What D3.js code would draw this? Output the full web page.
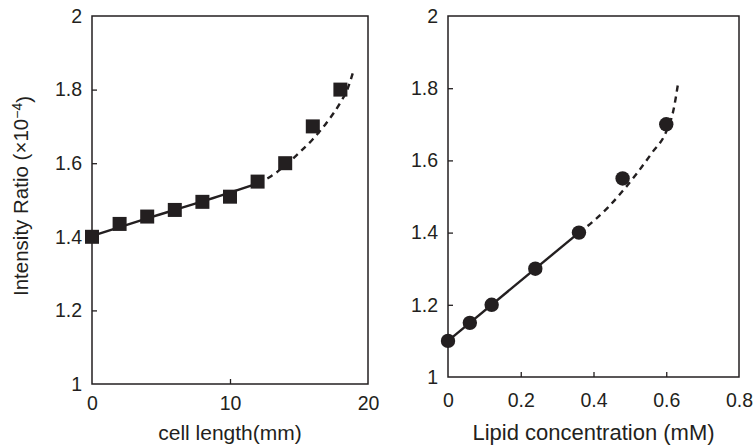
<!DOCTYPE html>
<html>
<head>
<meta charset="utf-8">
<script src="https://cdn.jsdelivr.net/npm/d3@7"></script>
<style>
  html, body { margin: 0; padding: 0; background: #fff; }
  svg { display: block; font-family: "Liberation Sans", Arial, Helvetica, sans-serif; }
</style>
</head>
<body>
<svg id="chart" width="755" height="446"></svg>
<script>
// ---- Data ----
// Left panel: cell length (mm) vs intensity ratio
const cellLength = [0, 2, 4, 6, 8, 10, 12, 14, 16, 18];
const ratioByLength = [1.40, 1.435, 1.455, 1.473, 1.495, 1.509, 1.55, 1.60, 1.70, 1.80];
const lengthFitSolidX = [0, 4, 8, 12];
const lengthFitSolidY = [1.402, 1.450, 1.496, 1.545];
const lengthFitDashX = [12, 13, 14, 15, 16, 17, 18, 18.5, 18.93];
const lengthFitDashY = [1.545, 1.565, 1.594, 1.628, 1.665, 1.71, 1.765, 1.80, 1.849];

// Right panel: lipid concentration (mM) vs intensity ratio
const lipidConc = [0, 0.06, 0.12, 0.24, 0.36, 0.48, 0.60];
const ratioByLipid = [1.10, 1.15, 1.20, 1.30, 1.40, 1.55, 1.70];
const lipidFitSolidX = [0, 0.36];
const lipidFitSolidY = [1.10, 1.40];
const lipidFitDashX = [0.36, 0.40, 0.44, 0.48, 0.52, 0.56, 0.60, 0.62, 0.632];
const lipidFitDashY = [1.40, 1.432, 1.47, 1.515, 1.565, 1.62, 1.68, 1.74, 1.81];

// Tick values / labels
const yTicks = [1, 1.2, 1.4, 1.6, 1.8, 2];
const lengthTicks = [0, 10, 20];
const lipidTicks = [0, 0.2, 0.4, 0.6, 0.8];
const yTitle = "Intensity Ratio (\u00d710";
const yTitleSup = "\u22124";
const lengthTitle = "cell length(mm)";
const lipidTitle = "Lipid concentration (mM)";

// ---- Drawing ----
const ink = "#231f20";
const svg = d3.select("#chart");

function zip(xs, ys) { return xs.map((x, i) => [x, ys[i]]); }

function panel(cfg) {
  const x = d3.scaleLinear().domain(cfg.xDomain).range([cfg.left, cfg.right]);
  const y = d3.scaleLinear().domain([1, 2]).range([cfg.bottom, cfg.top]);
  const g = svg.append("g");

  // frame
  g.append("rect")
    .attr("x", cfg.left).attr("y", cfg.top)
    .attr("width", cfg.right - cfg.left).attr("height", cfg.bottom - cfg.top)
    .attr("fill", "none").attr("stroke", ink).attr("stroke-width", 1.5);

  const fmt = d => d3.format("~g")(d);

  const xa = g.append("g").attr("transform", `translate(0,${cfg.bottom})`)
    .call(d3.axisBottom(x).tickValues(cfg.xTicks).tickFormat(fmt)
      .tickSizeInner(-5).tickSizeOuter(0).tickPadding(cfg.xPad));
  const ya = g.append("g").attr("transform", `translate(${cfg.left},0)`)
    .call(d3.axisLeft(y).tickValues(yTicks).tickFormat(fmt)
      .tickSizeInner(-5).tickSizeOuter(0).tickPadding(10));
  [xa, ya].forEach(a => {
    a.select(".domain").remove();
    a.selectAll("line").attr("stroke", ink).attr("stroke-width", 1.3);
    a.selectAll("text").attr("fill", ink).style("font-size", "19.5px")
      .style("font-family", '"Liberation Sans", Arial, sans-serif');
  });
  // hide tick marks at the frame edges
  xa.selectAll(".tick").filter(d => d === cfg.xDomain[0] || d === cfg.xDomain[1]).select("line").remove();
  ya.selectAll(".tick").filter(d => d === 1 || d === 2).select("line").remove();

  const line = d3.line().x(d => x(d[0])).y(d => y(d[1])).curve(d3.curveMonotoneX);
  g.append("path").attr("d", line(zip(cfg.solidX, cfg.solidY)))
    .attr("fill", "none").attr("stroke", ink).attr("stroke-width", 2.4);
  g.append("path").attr("d", line(zip(cfg.dashX, cfg.dashY)))
    .attr("fill", "none").attr("stroke", ink).attr("stroke-width", 2.4)
    .attr("stroke-dasharray", "6,5");

  const pts = zip(cfg.px, cfg.py);
  if (cfg.marker === "square") {
    g.selectAll("rect.m").data(pts).join("rect").attr("class", "m")
      .attr("x", d => x(d[0]) - 7).attr("y", d => y(d[1]) - 7)
      .attr("width", 14).attr("height", 14).attr("fill", ink);
  } else {
    g.selectAll("circle.m").data(pts).join("circle").attr("class", "m")
      .attr("cx", d => x(d[0])).attr("cy", d => y(d[1])).attr("r", 7.2).attr("fill", ink);
  }

  g.append("text").attr("x", (cfg.left + cfg.right) / 2).attr("y", 440)
    .attr("text-anchor", "middle").attr("fill", ink)
    .style("font-size", cfg.titleSize).text(cfg.xTitle);
  return { x, y };
}

panel({
  left: 92, right: 368, top: 16, bottom: 384, xDomain: [0, 20], xTicks: lengthTicks, xPad: 12,
  px: cellLength, py: ratioByLength, marker: "square",
  solidX: lengthFitSolidX, solidY: lengthFitSolidY, dashX: lengthFitDashX, dashY: lengthFitDashY,
  xTitle: lengthTitle, titleSize: "21px"
});
panel({
  left: 448, right: 739, top: 16, bottom: 377, xDomain: [0, 0.8], xTicks: lipidTicks, xPad: 16,
  px: lipidConc, py: ratioByLipid, marker: "circle",
  solidX: lipidFitSolidX, solidY: lipidFitSolidY, dashX: lipidFitDashX, dashY: lipidFitDashY,
  xTitle: lipidTitle, titleSize: "22px"
});

// y-axis title (left)
const yt = svg.append("text")
  .attr("transform", "translate(28,196) rotate(-90)")
  .attr("text-anchor", "middle").attr("fill", ink).style("font-size", "20.5px");
yt.append("tspan").text(yTitle);
yt.append("tspan").attr("dy", "-0.45em").style("font-size", "14px").text(yTitleSup);
yt.append("tspan").attr("dy", "0.45em").text(")");
</script>
</body>
</html>
